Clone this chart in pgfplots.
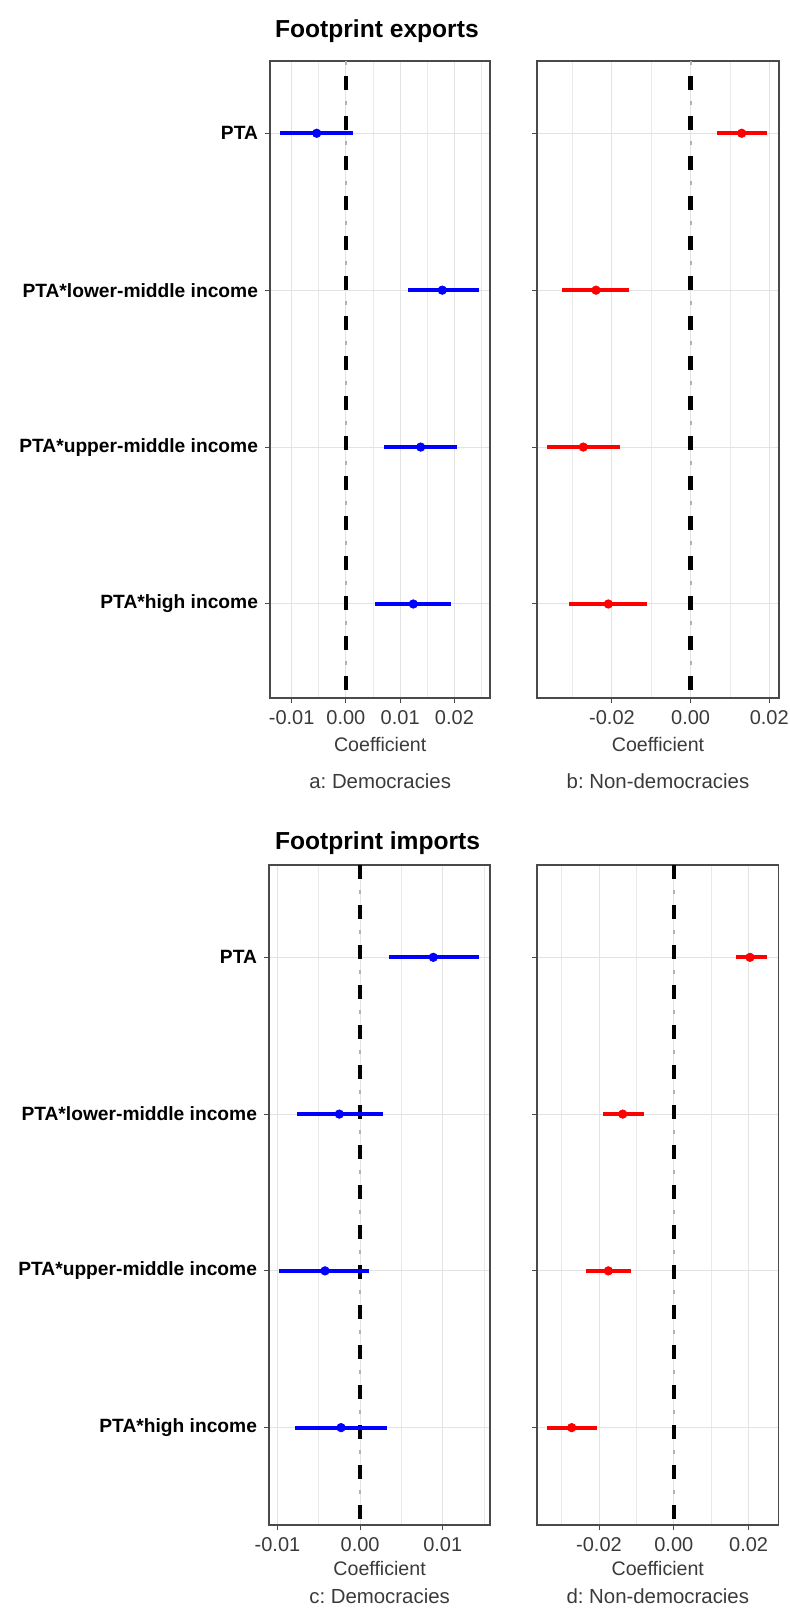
\documentclass[border=0pt]{standalone}
\usepackage{pgfplots}
\usepackage{pgfplotstable}
\pgfplotsset{compat=1.18}
\usepackage{fontspec}
\setmainfont{Liberation Sans}
\frenchspacing
\definecolor{txtgrey}{HTML}{3A3A3A}
\definecolor{gridgrey}{HTML}{E3E3E3}
\definecolor{framegrey}{HTML}{4A4A4A}

\pgfplotstableread{
y lo est hi
4 -0.01212 -0.00538 0.00136
3 0.01139 0.01776 0.02453
2 0.00702 0.01378 0.02053
1 0.00542 0.01242 0.01931
}\tA
\pgfplotstableread{
y lo est hi
4 0.00664 0.0130 0.01936
3 -0.0328 -0.02407 -0.0156
2 -0.03646 -0.0273 -0.01796
1 -0.03094 -0.02094 -0.01102
}\tB
\pgfplotstableread{
y lo est hi
4 0.00354 0.00886 0.0144
3 -0.00768 -0.00252 0.00273
2 -0.00978 -0.00425 0.00112
1 -0.00788 -0.00231 0.00322
}\tC
\pgfplotstableread{
y lo est hi
4 0.01663 0.02037 0.02484
3 -0.01901 -0.01366 -0.00797
2 -0.02348 -0.01751 -0.01152
1 -0.03398 -0.0273 -0.02045
}\tD

\pgfplotsset{
  fp/.style={
    scale only axis,
    anchor=south west,
    axis line style={framegrey, line width=0.9pt},
    tick style={framegrey, line width=0.5pt},
    tick align=outside,
    xtick pos=bottom, ytick pos=left,
    scaled x ticks=false,
    major tick length=2.5pt,
    minor tick length=0pt,
    xmajorgrids, xminorgrids, ymajorgrids,
    major grid style={gridgrey, line width=0.5pt},
    minor grid style={gridgrey!80, line width=0.4pt},
    ytick={1,2,3,4},
    x tick label style={font=\fontsize{10}{12}\selectfont, text=txtgrey},
    y tick label style={font=\fontsize{9.6}{11}\selectfont\bfseries, text=black},
    clip=false,
  },
  est/.style={only marks, mark=*, mark size=2.1pt, draw=#1, fill=#1},
  ci/.style={draw=none, mark=none, forget plot,
    error bars/.cd, x dir=both, x explicit,
    error mark=none,
    error bar style={#1, line width=2pt}},
}

\begin{document}
\begin{tikzpicture}[x=1pt,y=1pt]
% ---------- Panel a ----------
\begin{axis}[fp, at={(135pt,456.5pt)}, width=110.15pt, height=318.3pt,
  xmin=-0.01399, xmax=0.02661, ymin=0.401, ymax=4.458,
  xtick={-0.01,0,0.01,0.02}, xticklabels={-0.01,0.00,0.01,0.02},
  minor xtick={-0.005,0.005,0.015,0.025},
  yticklabels={PTA*high income,PTA*upper-middle income,PTA*lower-middle income,PTA}]
\addplot[gray!60, line width=1.1pt, dash pattern=on 2pt off 18pt, dash phase=0.2pt] coordinates {(0,4.458) (0,0.401)};
\addplot[black, line width=2.2pt, dash pattern=on 7pt off 13pt, dash phase=12.7pt] coordinates {(0,4.458) (0,0.401)};
\addplot[ci=blue] table[x=est, y=y, x error plus expr=\thisrow{hi}-\thisrow{est}, x error minus expr=\thisrow{est}-\thisrow{lo}] {\tA};
\addplot[est=blue] table[x=est, y=y] {\tA};
\end{axis}
% ---------- Panel b ----------
\begin{axis}[fp, at={(268.5pt,456.5pt)}, width=121pt, height=318.3pt,
  xmin=-0.03908, xmax=0.02249, ymin=0.401, ymax=4.458,
  xtick={-0.02,0,0.02}, xticklabels={-0.02,0.00,0.02},
  minor xtick={-0.03,-0.01,0.01},
  yticklabels={}]
\addplot[gray!60, line width=1.1pt, dash pattern=on 2pt off 18pt, dash phase=0.2pt] coordinates {(0,4.458) (0,0.401)};
\addplot[black, line width=2.2pt, dash pattern=on 7pt off 13pt, dash phase=12.7pt] coordinates {(0,4.458) (0,0.401)};
\addplot[ci=red] table[x=est, y=y, x error plus expr=\thisrow{hi}-\thisrow{est}, x error minus expr=\thisrow{est}-\thisrow{lo}] {\tB};
\addplot[est=red] table[x=est, y=y] {\tB};
\end{axis}
% ---------- Panel c ----------
\begin{axis}[fp, at={(134.5pt,43pt)}, width=110.65pt, height=330pt,
  xmin=-0.01103, xmax=0.01576, ymin=0.379, ymax=4.589,
  xtick={-0.01,0,0.01}, xticklabels={-0.01,0.00,0.01},
  minor xtick={-0.005,0.005,0.015},
  yticklabels={PTA*high income,PTA*upper-middle income,PTA*lower-middle income,PTA}]
\addplot[gray!60, line width=1.1pt, dash pattern=on 2pt off 18pt, dash phase=7.5pt] coordinates {(0,4.589) (0,0.379)};
\addplot[black, line width=2.2pt, dash pattern=on 7pt off 13pt, dash phase=0pt] coordinates {(0,4.589) (0,0.379)};
\addplot[ci=blue] table[x=est, y=y, x error plus expr=\thisrow{hi}-\thisrow{est}, x error minus expr=\thisrow{est}-\thisrow{lo}] {\tC};
\addplot[est=blue] table[x=est, y=y] {\tC};
\end{axis}
% ---------- Panel d ----------
\begin{axis}[fp, at={(268.5pt,43pt)}, width=120.75pt, height=330pt,
  xmin=-0.03658, xmax=0.0280, ymin=0.379, ymax=4.589,
  xtick={-0.02,0,0.02}, xticklabels={-0.02,0.00,0.02},
  minor xtick={-0.03,-0.01,0.01},
  yticklabels={}]
\addplot[gray!60, line width=1.1pt, dash pattern=on 2pt off 18pt, dash phase=7.5pt] coordinates {(0,4.589) (0,0.379)};
\addplot[black, line width=2.2pt, dash pattern=on 7pt off 13pt, dash phase=0pt] coordinates {(0,4.589) (0,0.379)};
\addplot[ci=red] table[x=est, y=y, x error plus expr=\thisrow{hi}-\thisrow{est}, x error minus expr=\thisrow{est}-\thisrow{lo}] {\tD};
\addplot[est=red] table[x=est, y=y] {\tD};
\end{axis}
% ---------- Titles and labels ----------
\node[anchor=west, font=\fontsize{12.3}{14}\selectfont\bfseries] at (134pt,790pt) {Footprint exports};
\node[anchor=west, font=\fontsize{12.3}{14}\selectfont\bfseries] at (134pt,384pt) {Footprint imports};
\node[font=\fontsize{9.8}{12}\selectfont, text=txtgrey] at (190.1pt,433pt) {Coefficient};
\node[font=\fontsize{9.8}{12}\selectfont, text=txtgrey] at (329pt,433pt) {Coefficient};
\node[font=\fontsize{10.2}{12}\selectfont, text=txtgrey] at (190.1pt,415pt) {a: Democracies};
\node[font=\fontsize{10.2}{12}\selectfont, text=txtgrey] at (329pt,415pt) {b: Non-democracies};
\node[font=\fontsize{9.8}{12}\selectfont, text=txtgrey] at (189.8pt,21.5pt) {Coefficient};
\node[font=\fontsize{9.8}{12}\selectfont, text=txtgrey] at (328.9pt,21.5pt) {Coefficient};
\node[font=\fontsize{10.2}{12}\selectfont, text=txtgrey] at (189.8pt,7.5pt) {c: Democracies};
\node[font=\fontsize{10.2}{12}\selectfont, text=txtgrey] at (328.9pt,7.5pt) {d: Non-democracies};
\pgfresetboundingbox
\useasboundingbox (0,0) rectangle (394.5pt,805.5pt);
\end{tikzpicture}
\end{document}
